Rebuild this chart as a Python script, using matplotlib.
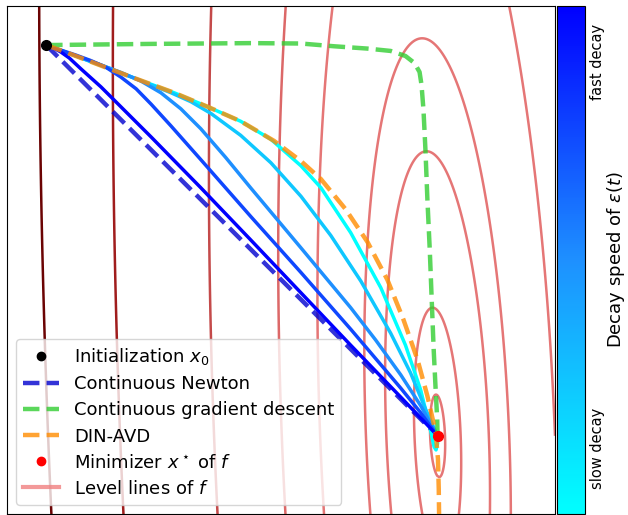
import numpy as np
import matplotlib
matplotlib.use("Agg")
import matplotlib.pyplot as plt
from matplotlib.colors import LinearSegmentedColormap, Normalize
from matplotlib.cm import ScalarMappable
from matplotlib.lines import Line2D

# ---------------------------------------------------------------- data
x_init = (-1.0, 1.0)
x_star = (0.0, 0.0)

# ill-conditioned quadratic: eigenvalue ratio and tilt of the long axis
eig_ratio = 31.0
tilt = 0.04

# half-widths (along x through the minimizer) of the drawn level sets
level_halfwidths = [0.019, 0.059, 0.131, 0.183, 0.300, 0.398, 0.571, 0.811, 0.995]
level_colors = ["#e57676", "#e57676", "#e57676", "#e57676", "#e57676",
                "#dc6868", "#c44a4a", "#a01d1d", "#6b0303"]

newton_x = [-1.0, 0.0]
newton_y = [1.0, 0.0]

gd_x = [-1.000, -0.732, -0.477, -0.349, -0.265, -0.179, -0.120, -0.082, -0.059, -0.046,
        -0.041, -0.036, -0.031, -0.026, -0.020, -0.015, -0.010, -0.005, -0.001, 0.000]
gd_y = [1.000, 1.003, 1.005, 1.004, 0.997, 0.991, 0.985, 0.972, 0.954, 0.931,
        0.898, 0.834, 0.732, 0.605, 0.477, 0.349, 0.222, 0.120, 0.043, 0.000]

dinavd_x = [-1.000, -0.945, -0.843, -0.776, -0.673, -0.587, -0.503, -0.418, -0.349, -0.298,
            -0.235, -0.179, -0.128, -0.087, -0.051, -0.026, -0.005, 0.001, 0.003, 0.004]
dinavd_y = [1.000, 0.980, 0.941, 0.916, 0.878, 0.842, 0.805, 0.755, 0.703, 0.657,
            0.580, 0.496, 0.399, 0.297, 0.194, 0.102, 0.010, -0.059, -0.135, -0.212]

# trajectories for several decay speeds of epsilon(t) (0 = slow, 1 = fast)
decay_speeds = [0.0, 0.25, 0.5, 0.75, 1.0]
traj_x = [
    [-1.000, -0.945, -0.843, -0.776, -0.673, -0.587, -0.503, -0.426, -0.349, -0.298,
     -0.222, -0.145, -0.082, -0.043, -0.018, -0.009, -0.004, 0.000, 0.000],
    [-1.000, -0.945, -0.860, -0.776, -0.681, -0.630, -0.579, -0.503, -0.426, -0.349,
     -0.273, -0.196, -0.120, -0.069, -0.031, 0.000],
    [-1.000, -0.945, -0.860, -0.809, -0.758, -0.707, -0.656, -0.605, -0.541, -0.477,
     -0.349, -0.222, -0.158, -0.094, -0.043, 0.000],
    [-1.000, -0.962, -0.923, -0.885, -0.847, -0.809, -0.770, -0.732, -0.681, -0.605,
     -0.477, -0.349, -0.222, -0.094, -0.043, 0.000],
    [-1.000, -0.980, -0.962, -0.941, -0.911, -0.860, -0.732, -0.605, -0.477, -0.349,
     -0.222, -0.094, -0.031, 0.000],
]
traj_y = [
    [1.000, 0.980, 0.941, 0.916, 0.878, 0.842, 0.805, 0.759, 0.691, 0.635,
     0.520, 0.379, 0.232, 0.117, 0.015, -0.028, -0.036, -0.020, 0.000],
    [1.000, 0.980, 0.949, 0.916, 0.878, 0.855, 0.825, 0.769, 0.699, 0.613,
     0.513, 0.396, 0.263, 0.161, 0.069, 0.000],
    [1.000, 0.980, 0.949, 0.930, 0.908, 0.878, 0.837, 0.786, 0.712, 0.634,
     0.481, 0.328, 0.245, 0.156, 0.077, 0.000],
    [1.000, 0.987, 0.974, 0.960, 0.943, 0.918, 0.888, 0.849, 0.793, 0.707,
     0.561, 0.418, 0.273, 0.122, 0.059, 0.000],
    [1.000, 0.992, 0.982, 0.967, 0.939, 0.893, 0.765, 0.635, 0.501, 0.366,
     0.232, 0.099, 0.033, 0.000],
]

tick_positions = [0.13, 0.89]
tick_labels = ["slow decay", "fast decay"]


# ---------------------------------------------------------------- objective
def f(x, y):
    u = np.cos(tilt) * x + np.sin(tilt) * y
    v = -np.sin(tilt) * x + np.cos(tilt) * y
    return 0.5 * (u ** 2 + v ** 2 / eig_ratio)


levels = [f(-w, 0.0) for w in level_halfwidths]

# ---------------------------------------------------------------- figure
W, H = 628, 515
fig = plt.figure(figsize=(W / 100, H / 100), dpi=100)
ax = fig.add_axes([7 / W, 1 / H, 548 / W, 508 / H])
cax = fig.add_axes([557 / W, 1 / H, 28 / W, 508 / H])

xs = np.linspace(-1.1, 0.3, 700)
ys = np.linspace(-0.25, 1.15, 700)
XX, YY = np.meshgrid(xs, ys)
ax.contour(XX, YY, f(XX, YY), levels=levels, colors=level_colors,
           linewidths=1.8, zorder=1)

cmap = LinearSegmentedColormap.from_list("decay", ["cyan", "dodgerblue", "blue"])

for s, tx, ty in zip(decay_speeds, traj_x, traj_y):
    ax.plot(tx, ty, color=cmap(s), lw=2.5, zorder=3)

ax.plot(newton_x, newton_y, ls="--", color="mediumblue", alpha=0.8, lw=3.2, zorder=2)
ax.plot(gd_x, gd_y, ls="--", color="limegreen", alpha=0.8, lw=3.2, zorder=4)
ax.plot(dinavd_x, dinavd_y, ls="--", color="darkorange", alpha=0.8, lw=3.2, zorder=5)

ax.plot(*x_init, "o", color="black", ms=7, zorder=6)
ax.plot(*x_star, "o", color="red", ms=7, zorder=6)

ax.set_xlim(-1.1, 0.3)
ax.set_ylim(-0.2, 1.1)
ax.set_xticks([])
ax.set_yticks([])

handles = [
    Line2D([], [], ls="none", marker="o", color="black", ms=6),
    Line2D([], [], ls="--", color="mediumblue", alpha=0.8, lw=3.2),
    Line2D([], [], ls="--", color="limegreen", alpha=0.8, lw=3.2),
    Line2D([], [], ls="--", color="darkorange", alpha=0.8, lw=3.2),
    Line2D([], [], ls="none", marker="o", color="red", ms=6),
    Line2D([], [], color="lightcoral", alpha=0.8, lw=3),
]
labels = [r"Initialization $x_0$", "Continuous Newton", "Continuous gradient descent",
          "DIN-AVD", r"Minimizer $x^\star$ of $f$", r"Level lines of $f$"]
ax.legend(handles, labels, loc="lower left", fontsize=13, labelspacing=0.45)

cb = fig.colorbar(ScalarMappable(norm=Normalize(0, 1), cmap=cmap), cax=cax)
cb.set_ticks(tick_positions)
cb.set_ticklabels(tick_labels, rotation=90, va="center", fontsize=10.5)
cax.tick_params(length=0)
cb.set_label(r"Decay speed of $\varepsilon(t)$", fontsize=13, labelpad=0)

fig.savefig("out.png", dpi=100)
